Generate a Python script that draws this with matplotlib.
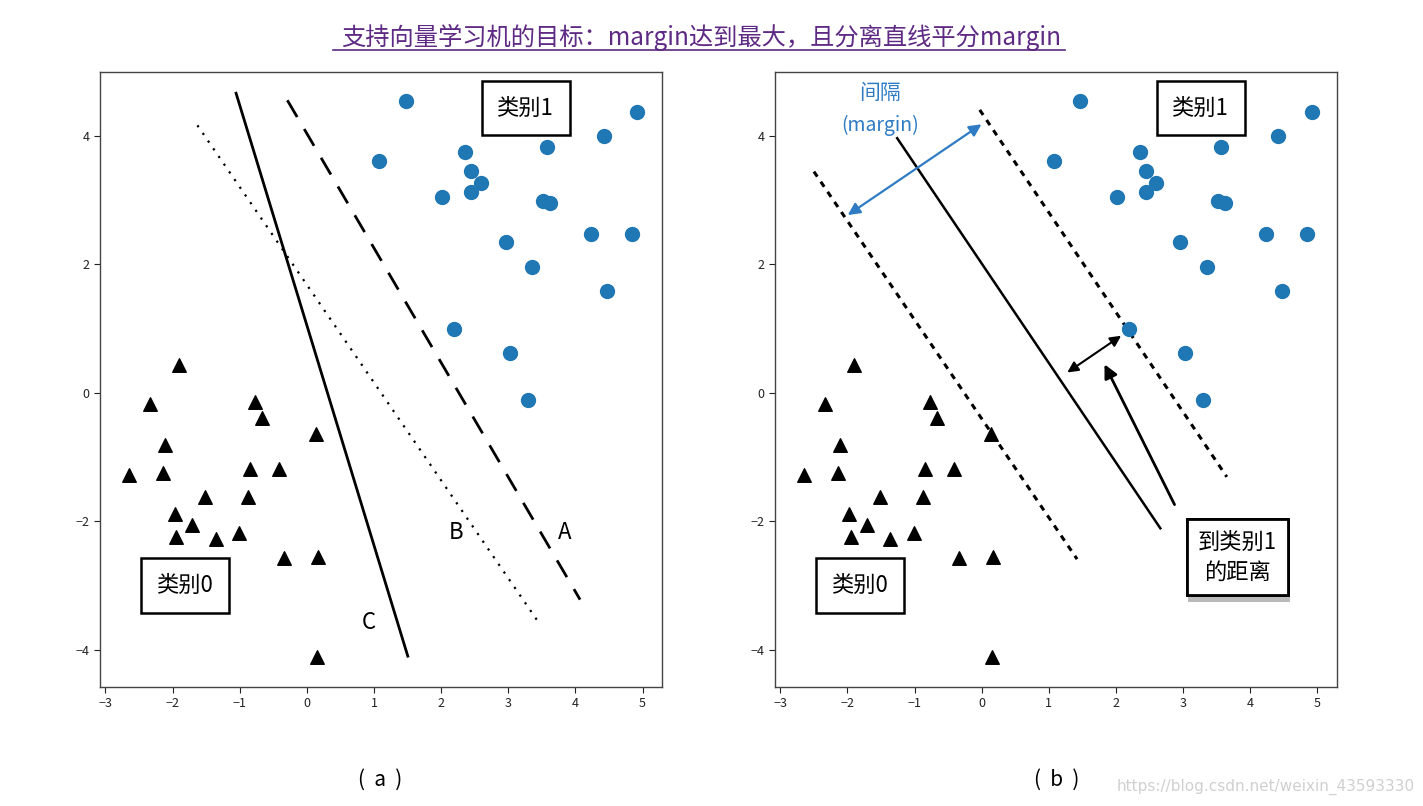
import numpy as np
import matplotlib
matplotlib.use('Agg')
import matplotlib.pyplot as plt
import matplotlib.patheffects as pe

plt.rcParams['font.family'] = ['Noto Sans CJK SC', 'DejaVu Sans']

# class 1 (blue circles)
c1_x = [1.47, 4.92, 4.42, 3.57, 2.35, 1.07, 2.45, 2.59, 2.45, 2.01,
        3.52, 3.62, 2.96, 4.24, 4.85, 3.36, 4.47, 2.19, 3.02, 3.29]
c1_y = [4.54, 4.36, 3.99, 3.82, 3.74, 3.61, 3.45, 3.27, 3.12, 3.04,
        2.99, 2.95, 2.34, 2.47, 2.47, 1.96, 1.58, 0.99, 0.61, -0.12]

# class 0 (black triangles)
c0_x = [-1.91, -2.33, -0.77, -0.67, 0.14, -2.11, -2.65, -2.14, -0.85, -0.42,
        -1.52, -0.88, -1.97, -1.71, -1.01, -1.95, -1.36, -0.34, 0.17, 0.15]
c0_y = [0.43, -0.17, -0.14, -0.39, -0.64, -0.82, -1.28, -1.25, -1.18, -1.18,
        -1.63, -1.63, -1.89, -2.06, -2.18, -2.25, -2.28, -2.58, -2.56, -4.11]

# candidate separating lines in (a): (x0, y0, x1, y1)
line_a = [-0.29, 4.55, 4.07, -3.22]
line_b = [-1.63, 4.16, 3.43, -3.54]
line_c = [-1.06, 4.68, 1.51, -4.12]

# (b): max-margin line and its two margin lines
line_mid = [-1.26, 3.96, 2.66, -2.11]
line_up = [-0.03, 4.40, 3.65, -1.31]
line_low = [-2.50, 3.44, 1.42, -2.59]

xticks = [-3, -2, -1, 0, 1, 2, 3, 4, 5]
yticks = [-4, -2, 0, 2, 4]
title = '支持向量学习机的目标：margin达到最大，且分离直线平分margin'

BLUE = '#1f77b4'
PURPLE = '#5e2a84'

fig = plt.figure(figsize=(14.23, 8.06), dpi=100)
ax1 = fig.add_axes([0.0703, 0.1476, 0.3949, 0.7631])
ax2 = fig.add_axes([0.5446, 0.1476, 0.3949, 0.7631])


def base(ax):
    ax.scatter(c1_x, c1_y, s=100, color=BLUE, zorder=3)
    ax.scatter(c0_x, c0_y, s=95, marker='^', color='black', zorder=3)
    ax.set_xlim(-3.08, 5.29)
    ax.set_ylim(-4.58, 4.99)
    ax.set_xticks(xticks)
    ax.set_yticks(yticks)
    ax.tick_params(labelsize=9, colors='#222222', length=4)
    for s in ax.spines.values():
        s.set_color('#444444')
        s.set_linewidth(1.0)
    box = dict(boxstyle='square,pad=0.7', fc='white', ec='black', lw=1.8)
    ax.text(3.26, 4.43, '类别1', fontsize=16, ha='center', va='center', bbox=box, zorder=4)
    ax.text(-1.81, -3.0, '类别0', fontsize=16, ha='center', va='center', bbox=box, zorder=4)


def seg(ax, l, **kw):
    ax.plot([l[0], l[2]], [l[1], l[3]], color='black', **kw)


base(ax1)
seg(ax1, line_c, lw=2.0, solid_capstyle='butt')
seg(ax1, line_b, lw=1.6, linestyle=(0, (1, 3.2)))
seg(ax1, line_a, lw=2.0, linestyle=(0, (7, 5)))
ax1.text(3.84, -2.18, 'A', fontsize=16, ha='center', va='center')
ax1.text(2.23, -2.18, 'B', fontsize=16, ha='center', va='center')
ax1.text(0.92, -3.57, 'C', fontsize=16, ha='center', va='center')

base(ax2)
seg(ax2, line_mid, lw=1.8)
seg(ax2, line_up, lw=2.2, linestyle=(0, (2, 2)))
seg(ax2, line_low, lw=2.2, linestyle=(0, (2, 2)))
ax2.annotate('', xy=(0.03, 4.20), xytext=(-2.03, 2.74),
             arrowprops=dict(arrowstyle='<|-|>', color='#2f7cc4', lw=1.6, mutation_scale=18))
ax2.text(-1.52, 4.66, '间隔', fontsize=15, color='#2f7cc4', ha='center', va='center')
ax2.text(-1.52, 4.16, '(margin)', fontsize=14, color='#2f7cc4', ha='center', va='center')
ax2.annotate('', xy=(2.11, 0.91), xytext=(1.24, 0.29),
             arrowprops=dict(arrowstyle='<|-|>', color='black', lw=1.5, mutation_scale=16))
ax2.annotate('', xy=(1.81, 0.48), xytext=(2.89, -1.78),
             arrowprops=dict(arrowstyle='-|>', color='black', lw=2.0, mutation_scale=20))
t = ax2.text(3.81, -2.56, '到类别1\n的距离', fontsize=16, ha='center', va='center',
             linespacing=1.4,
             bbox=dict(boxstyle='square,pad=0.5', fc='white', ec='black', lw=2.0), zorder=4)
t.get_bbox_patch().set_path_effects([pe.withSimplePatchShadow(offset=(1, -5), shadow_rgbFace='#777777', alpha=0.5), pe.Normal()])

fig.text(0.4925, 0.954, title, fontsize=17.5, color=PURPLE, ha='center', va='center')
fig.add_artist(plt.Line2D([333 / 1423, 1065 / 1423], [1 - 50 / 806, 1 - 50 / 806], color=PURPLE, lw=1.2))

fig.text(380 / 1423, 1 - 780 / 806, '(  a  )', fontsize=15, ha='center', va='center')
fig.text(1057 / 1423, 1 - 780 / 806, '(  b  )', fontsize=15, ha='center', va='center')
fig.text(1415 / 1423, 1 - 787 / 806, 'https://blog.csdn.net/weixin_43593330', fontsize=11,
         color='#d0d0d0', ha='right', va='center', family='DejaVu Sans')

fig.savefig('out.png', dpi=100)
